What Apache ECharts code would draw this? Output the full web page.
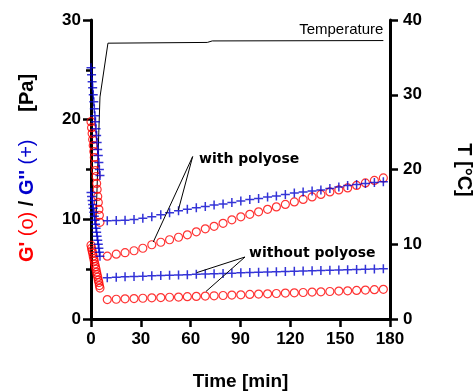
<!DOCTYPE html>
<html>
<head>
<meta charset="utf-8">
<script src="https://cdn.jsdelivr.net/npm/echarts@6/dist/echarts.min.js"></script>
<style>html,body{margin:0;padding:0;background:#fff}#c{width:474px;height:391px}</style>
</head>
<body>
<div id="c"></div>
<script>
// ---- data ----
const timeDense = [0.0,0.34,0.68,1.0,1.35,1.7,2.0,2.35,2.7,3.05,3.4,3.7,4.05,4.4,4.75,5.05,5.4];
const timeFlat = [9.8,15.2,20.5,25.9,31.2,36.6,42.0,47.3,52.7,58.0,63.4,68.8,74.1,79.5,84.8,90.2,95.6,100.9,106.3,111.6,117.0,122.4,127.7,133.1,138.4,143.8,149.2,154.5,159.9,165.2,170.6,176.0];

const gpWithDense = [19.8,19.2,18.6,18.0,17.4,16.8,16.2,15.5,14.9,14.3,13.6,13.0,12.3,11.7,11.0,10.4,9.7];
const gpWithFlat = [6.3,6.5,6.65,6.85,7.1,7.45,7.7,7.95,8.2,8.45,8.75,9.05,9.3,9.6,9.95,10.25,10.5,10.75,11.0,11.25,11.5,11.75,12.0,12.25,12.5,12.75,12.95,13.15,13.4,13.65,13.9,14.15];
const gppWithDense = [25.2,24.5,23.8,23.2,22.5,21.8,21.1,20.4,19.8,19.1,18.4,17.7,17.0,16.4,15.7,15.0,14.4];
const gppWithFlat = [9.86,9.88,9.92,9.98,10.1,10.25,10.45,10.65,10.85,11.0,11.15,11.3,11.45,11.55,11.7,11.85,12.0,12.1,12.25,12.35,12.5,12.65,12.75,12.85,12.95,13.1,13.25,13.4,13.5,13.6,13.7,13.78];

const gpWithoutDense = [7.4,7.1,6.85,6.6,6.3,6.05,5.8,5.5,5.25,5.0,4.7,4.45,4.2,3.9,3.65,3.35,3.1];
const gpWithoutFlat = [1.95,1.98,2.02,2.05,2.08,2.12,2.15,2.18,2.2,2.24,2.27,2.3,2.33,2.36,2.4,2.43,2.47,2.5,2.53,2.56,2.6,2.63,2.66,2.7,2.73,2.76,2.8,2.83,2.87,2.9,2.94,2.98];
const gppWithoutDense = [12.7,12.3,11.9,11.5,11.1,10.7,10.3,9.9,9.5,9.1,8.7,8.3,7.9,7.5,7.1,6.7,6.3];
const gppWithoutFlat = [4.15,4.2,4.24,4.27,4.3,4.33,4.36,4.39,4.42,4.45,4.48,4.51,4.54,4.57,4.6,4.63,4.66,4.68,4.71,4.73,4.76,4.78,4.81,4.83,4.86,4.88,4.91,4.93,4.96,4.98,5.01,5.04];

const tempTime = [3.0,4.0,4.7,5.4,10.2,70.0,73.0,176.0];
const tempValue = [13,20,25,29.7,36.9,37.0,37.2,37.25];

const xTicks = {min:0, max:180, interval:30};
const yLeftTicks = {min:0, max:30, interval:10};
const yLeftMinor = {min:0, max:30, interval:5};
const yRightTicks = {min:0, max:40, interval:10};

// annotation anchors (data units: time, Pa)
const withText = 'with polyose';
const withTextPos = [65, 16.05];
const withLineFrom = [61.2, 16.3];
const withLineTo = [[37.5, 7.73],[52.6, 10.94]];
const withoutText = 'without polyose';
const withoutTextPos = [95.1, 6.6];
const withoutLineFrom = [92.7, 6.22];
const withoutLineTo = [[63.6, 4.65],[69.2, 2.76]];
const tempLabel = 'Temperature';
const tempLabelPos = [176, 37.25];

// ---- build ----
function pairs(ts, vs){ return ts.map((t,i)=>[t, vs[i]]); }
const RED = '#ff0000', BLUE = '#0000cd';
const FONT = '"Liberation Sans", Arial, sans-serif';
const plusPath = 'path://M3.75,0h1.5v9h-1.5zM0,3.75h9v1.5h-9z';

const chart = echarts.init(document.getElementById('c'), null, {renderer:'canvas'});
const axisCommon = {
  axisLine:{show:true,onZero:false,lineStyle:{color:'#000',width:3}},
  axisTick:{show:true,length:8,lineStyle:{color:'#000',width:2.5}},
  splitLine:{show:false},
  axisLabel:{color:'#000',fontSize:17,fontWeight:'bold',fontFamily:FONT}
};
const gpStyle = {type:'scatter', symbol:'circle', symbolSize:8, yAxisIndex:0,
  itemStyle:{color:'rgba(0,0,0,0)', borderColor:RED, borderWidth:1.2}, silent:true, z:3};
const gppStyle = {type:'scatter', symbol:plusPath, symbolSize:9, yAxisIndex:0,
  itemStyle:{color:BLUE}, silent:true, z:4};

chart.setOption({
  animation:false,
  backgroundColor:'#fff',
  grid:{left:91,right:84,top:20,bottom:72,containLabel:false,outerBoundsMode:'none'},
  xAxis:Object.assign({type:'value'}, xTicks, axisCommon, {
    axisLabel:Object.assign({}, axisCommon.axisLabel, {margin:12}),
    name:'Time [min]', nameLocation:'middle', nameGap:53,
    nameTextStyle:{color:'#000',fontSize:19,fontWeight:'bold',fontFamily:FONT}
  }),
  yAxis:[
    Object.assign({type:'value',position:'left'}, yLeftTicks, axisCommon, {
      axisLabel:Object.assign({}, axisCommon.axisLabel, {margin:10})
    }),
    Object.assign({type:'value',position:'right'}, yRightTicks, axisCommon, {
      axisLabel:Object.assign({}, axisCommon.axisLabel, {margin:13})
    }),
    Object.assign({type:'value',position:'left'}, yLeftMinor, {
      axisLine:{show:false}, axisLabel:{show:false}, splitLine:{show:false},
      axisTick:{show:true,length:5,lineStyle:{color:'#000',width:2.5}}
    })
  ],
  series:[
    {type:'line', yAxisIndex:1, data:pairs(tempTime,tempValue), symbol:'none',
     lineStyle:{color:'#000',width:1}, silent:true, z:2},
    Object.assign({data:pairs(timeDense,gpWithDense).concat(pairs(timeFlat,gpWithFlat))}, gpStyle),
    Object.assign({data:pairs(timeDense,gpWithoutDense).concat(pairs(timeFlat,gpWithoutFlat))}, gpStyle),
    Object.assign({data:pairs(timeDense,gppWithDense).concat(pairs(timeFlat,gppWithFlat))}, gppStyle),
    Object.assign({data:pairs(timeDense,gppWithoutDense).concat(pairs(timeFlat,gppWithoutFlat))}, gppStyle)
  ]
});

function px(p, right){ return chart.convertToPixel(right ? {xAxisIndex:0,yAxisIndex:1} : {xAxisIndex:0,yAxisIndex:0}, p); }
const g = [];
function addLines(from, tos){
  const a = px(from);
  tos.forEach(t=>{ const b = px(t);
    g.push({type:'line', shape:{x1:a[0],y1:a[1],x2:b[0],y2:b[1]}, style:{stroke:'#000',lineWidth:1}, z:10}); });
}
addLines(withLineFrom, withLineTo);
addLines(withoutLineFrom, withoutLineTo);
const wp = px(withTextPos), wop = px(withoutTextPos), tp = px(tempLabelPos, true);
g.push({type:'text', x:wp[0], y:wp[1], style:{text:withText, font:'bold 14px "DejaVu Sans", sans-serif', fill:'#000', align:'left', verticalAlign:'middle'}, z:10});
g.push({type:'text', x:wop[0], y:wop[1], style:{text:withoutText, font:'bold 14px "DejaVu Sans", sans-serif', fill:'#000', align:'left', verticalAlign:'middle'}, z:10});
g.push({type:'text', x:tp[0], y:tp[1]-3, style:{text:tempLabel, font:'15px ' + FONT, fill:'#000', align:'right', verticalAlign:'bottom'}, z:10});
// axis titles
g.push({type:'text', x:27, y:168, rotation:Math.PI/2, style:{
  text:"{gr|G'}{nr| (o) }{sl|/ }{gb|G''}{nb| (+)}{pa|     [Pa]}",
  align:'center', verticalAlign:'middle',
  rich:{
    gr:{fill:RED,font:'bold 20px '+FONT},
    nr:{fill:RED,font:'20px '+FONT},
    sl:{fill:'#000',font:'bold 20px '+FONT},
    gb:{fill:BLUE,font:'bold 20px '+FONT},
    nb:{fill:BLUE,font:'20px '+FONT},
    pa:{fill:'#000',font:'bold 20px '+FONT}
  }}, z:10});
g.push({type:'text', x:464, y:170, rotation:-Math.PI/2, style:{
  text:'T [°C]', font:'bold 20px '+FONT, fill:'#000', align:'center', verticalAlign:'middle'}, z:10});
chart.setOption({graphic:g});
</script>
</body>
</html>
